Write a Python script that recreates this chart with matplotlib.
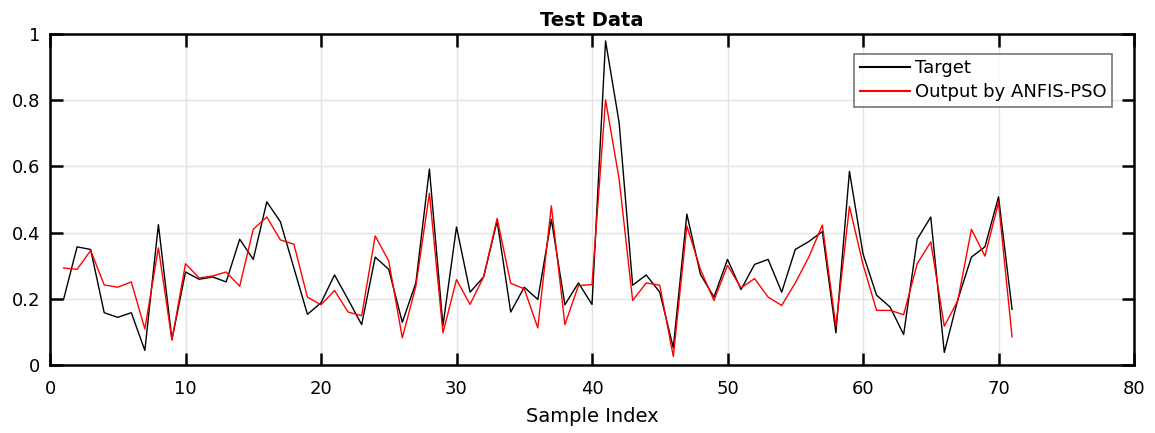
import matplotlib
matplotlib.use("Agg")
import matplotlib.pyplot as plt
import numpy as np

plt.rcParams['font.family'] = ['DejaVu Sans']

sample_index = list(range(1, 72))
target = [0.198, 0.357, 0.349, 0.158, 0.144, 0.158, 0.044, 0.424, 0.077, 0.281,
          0.259, 0.266, 0.251, 0.380, 0.319, 0.493, 0.433, 0.293, 0.153, 0.188,
          0.272, 0.198, 0.122, 0.326, 0.289, 0.129, 0.248, 0.592, 0.119, 0.417,
          0.220, 0.266, 0.435, 0.160, 0.235, 0.198, 0.440, 0.182, 0.248, 0.183,
          0.979, 0.733, 0.241, 0.272, 0.220, 0.052, 0.456, 0.274, 0.205, 0.319,
          0.228, 0.304, 0.319, 0.220, 0.349, 0.373, 0.403, 0.097, 0.585, 0.336,
          0.211, 0.175, 0.092, 0.380, 0.447, 0.038, 0.198, 0.326, 0.357, 0.508,
          0.168]
output = [0.293, 0.289, 0.346, 0.242, 0.235, 0.251, 0.109, 0.354, 0.075, 0.306,
          0.263, 0.269, 0.281, 0.238, 0.410, 0.447, 0.378, 0.365, 0.205, 0.182,
          0.225, 0.160, 0.149, 0.390, 0.314, 0.082, 0.238, 0.519, 0.097, 0.258,
          0.183, 0.266, 0.443, 0.247, 0.230, 0.112, 0.481, 0.122, 0.240, 0.243,
          0.801, 0.562, 0.195, 0.248, 0.241, 0.026, 0.420, 0.289, 0.195, 0.301,
          0.233, 0.261, 0.205, 0.180, 0.248, 0.326, 0.423, 0.117, 0.479, 0.304,
          0.165, 0.165, 0.152, 0.306, 0.372, 0.117, 0.195, 0.410, 0.329, 0.491,
          0.085]

fig = plt.figure(figsize=(11.55, 4.33), dpi=100)
W, H = 1155, 433
ax = fig.add_axes([50 / W, 1 - 365 / H, (1134 - 50) / W, (365 - 34) / H])

ax.plot(sample_index, target, color='black', lw=1.0, label='Target')
ax.plot(sample_index, output, color='red', lw=1.0, label='Output by ANFIS-PSO')

ax.set_xlim(0, 80)
ax.set_ylim(0, 1)
ax.set_xticks(np.arange(0, 81, 10))
ax.set_yticks([0, 0.2, 0.4, 0.6, 0.8, 1])
ax.set_yticklabels(['0', '0.2', '0.4', '0.6', '0.8', '1'])
ax.grid(True, color='#e3e3e3', lw=1.0)
ax.set_axisbelow(True)
for s in ax.spines.values():
    s.set_linewidth(1.8)
ax.tick_params(direction='in', length=9, width=1.8, top=True, right=True,
               labelsize=13)
ax.tick_params(axis='x', pad=11)
ax.tick_params(axis='y', pad=7)

ax.set_title('Test Data', fontsize=14, fontweight='bold', pad=6)
ax.set_xlabel('Sample Index', fontsize=14, labelpad=6)

leg = ax.legend(loc='upper right', bbox_to_anchor=((1112 - 50) / (1134 - 50), 1 - (54 - 34) / (365 - 34)),
                fontsize=13, frameon=True, fancybox=False, edgecolor='#555555',
                handlelength=2.75, handletextpad=0.3, borderpad=0.3, labelspacing=0.33,
                borderaxespad=0)
leg.get_frame().set_linewidth(1.2)
for l in leg.get_lines():
    l.set_linewidth(1.5)

fig.savefig('out.png', dpi=100)
